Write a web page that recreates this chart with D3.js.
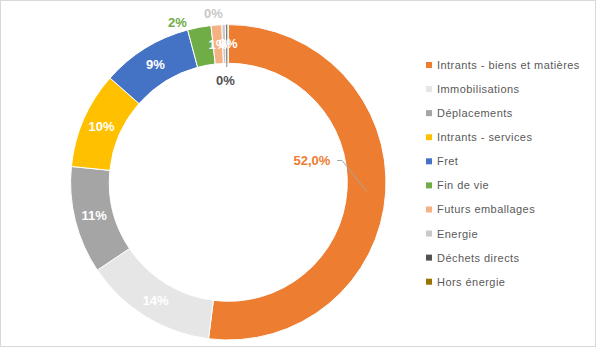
<!DOCTYPE html>
<html>
<head>
<meta charset="utf-8">
<script src="https://cdn.jsdelivr.net/npm/d3@7"></script>
<style>
  html, body { margin: 0; padding: 0; background: #fff; }
  svg { display: block; font-family: "Liberation Sans", Arial, sans-serif; }
</style>
</head>
<body>
<svg id="chart" width="596" height="348"></svg>
<script>
// ---- data ----
const categories = [
  "Intrants - biens et matières",
  "Immobilisations",
  "Déplacements",
  "Intrants - services",
  "Fret",
  "Fin de vie",
  "Futurs emballages",
  "Energie",
  "Déchets directs",
  "Hors énergie"
];
const values = [52.0, 13.6, 11.0, 9.9, 9.35, 2.4, 1.1, 0.35, 0.25, 0.05];
const colors = ["#ED7D31", "#E7E6E6", "#A5A5A5", "#FFC000", "#4472C4",
                "#70AD47", "#F4B183", "#C9C9C9", "#525252", "#997300"];

// ---- layout ----
const W = 596, H = 348;
const cx = 228.3, cy = 182.3, rOuter = 157.7, rInner = 119;
const rMid = (rOuter + rInner) / 2;

const svg = d3.select("#chart");

svg.append("rect")
  .attr("x", 0.5).attr("y", 0.5)
  .attr("width", W - 1).attr("height", H - 2)
  .attr("fill", "#fff").attr("stroke", "#D9D9D9");

const pie = d3.pie().sort(null).value(d => d)
  .startAngle(0).endAngle(2 * Math.PI);
const arcs = pie(values);
const arc = d3.arc().innerRadius(rInner).outerRadius(rOuter);

const g = svg.append("g").attr("transform", `translate(${cx},${cy})`);

g.selectAll("path.slice")
  .data(arcs)
  .join("path")
  .attr("class", "slice")
  .attr("d", arc)
  .attr("fill", (d, i) => colors[i])
  .attr("stroke", "#fff")
  .attr("stroke-width", 1);

// label text
const total = d3.sum(values);
function labelText(v, i) {
  const p = v / total * 100;
  if (i === 0) return p.toFixed(1).replace(".", ",") + "%";
  return Math.round(p) + "%";
}

// label placement modes: default = centred in ring (white), others custom
const placement = {
  0: { mode: "callout", dx: 312 - cx, dy: 160.5 - cy },
  5: { mode: "outside", dx: 177.5 - cx, dy: 22.5 - cy },
  7: { mode: "outside", dx: 213.5 - cx, dy: 13 - cy },
  8: { mode: "inside", dx: 225.5 - cx, dy: 80 - cy }
};

const midArc = d3.arc().innerRadius(rMid).outerRadius(rMid);

// leader lines
arcs.forEach((d, i) => {
  const p = placement[i];
  if (!p) return;
  const [mx, my] = midArc.centroid(d);
  if (p.mode === "callout") {
    const sx = p.dx + 25, sy = p.dy;
    g.append("path")
      .attr("d", `M${sx},${sy}L${sx + 5},${sy}L${mx},${my}`)
      .attr("fill", "none").attr("stroke", "#A6A6A6").attr("stroke-width", 1);
  } else if (p.mode === "inside") {
    g.append("line")
      .attr("x1", mx).attr("y1", -rOuter)
      .attr("x2", mx).attr("y2", p.dy - 13)
      .attr("stroke", "#8C8C8C").attr("stroke-width", 1);
  }
});

g.selectAll("text.lbl")
  .data(arcs)
  .join("text")
  .attr("class", "lbl")
  .attr("x", (d, i) => placement[i] ? placement[i].dx : midArc.centroid(d)[0])
  .attr("y", (d, i) => placement[i] ? placement[i].dy : midArc.centroid(d)[1])
  .attr("text-anchor", "middle")
  .attr("dominant-baseline", "central")
  .attr("font-size", 13)
  .attr("font-weight", "bold")
  .attr("fill", (d, i) => placement[i] ? colors[i] : "#fff")
  .text((d, i) => labelText(d.data, i));

// legend
const legY = d3.scalePoint().domain(categories).range([65, 281.7]);
const leg = svg.append("g");
const items = leg.selectAll("g.item")
  .data(categories)
  .join("g")
  .attr("class", "item")
  .attr("transform", d => `translate(426,${legY(d)})`);
items.append("rect")
  .attr("x", 0).attr("y", -3).attr("width", 6).attr("height", 6)
  .attr("fill", (d, i) => colors[i]);
items.append("text")
  .attr("x", 11).attr("y", 0)
  .attr("dominant-baseline", "central")
  .attr("font-size", 11)
  .attr("letter-spacing", 0.45)
  .attr("fill", "#595959")
  .text(d => d);
</script>
</body>
</html>
